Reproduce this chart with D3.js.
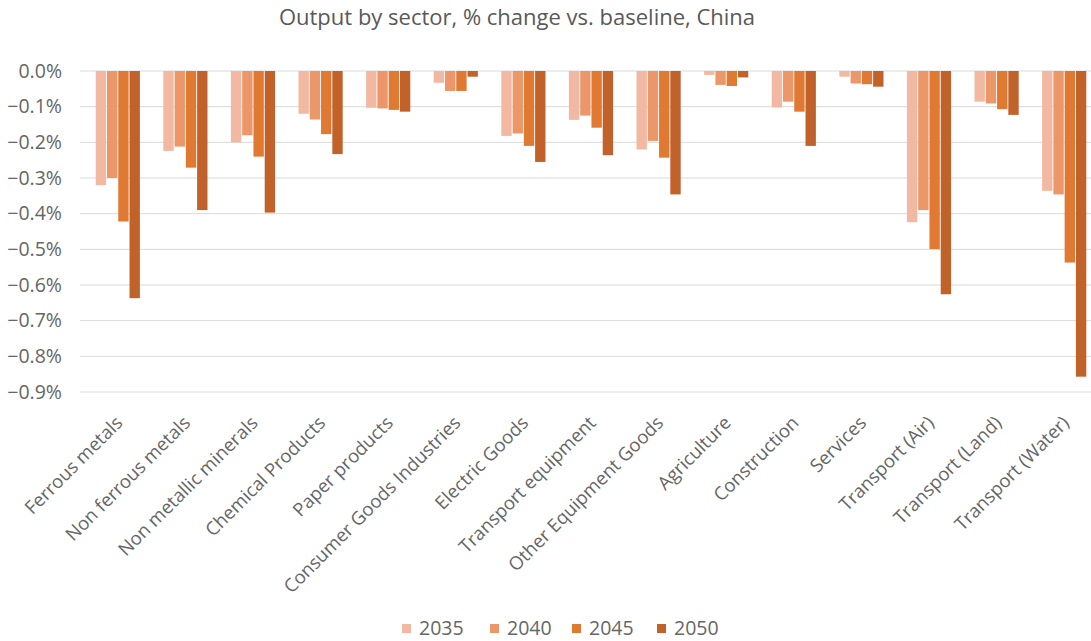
<!DOCTYPE html>
<html>
<head>
<meta charset="utf-8">
<script src="https://cdn.jsdelivr.net/npm/d3@7"></script>
<style>
  html, body { margin: 0; padding: 0; background: #fff; }
  svg { display: block; }
  text { font-family: "Open Sans", "Liberation Sans", sans-serif; }
</style>
</head>
<body>
<svg id="chart" width="1091" height="641"></svg>
<script>
// Sectors along the x axis
const sectors = [
  "Ferrous metals", "Non ferrous metals", "Non metallic minerals", "Chemical Products",
  "Paper products", "Consumer Goods Industries", "Electric Goods", "Transport equipment",
  "Other Equipment Goods", "Agriculture", "Construction", "Services",
  "Transport (Air)", "Transport (Land)", "Transport (Water)"
];

// Years shown as series
const years = ["2035", "2040", "2045", "2050"];

// % change vs. baseline, one array per year (in percent)
const v2035 = [-0.320, -0.224, -0.200, -0.120, -0.103, -0.033, -0.182, -0.137, -0.220, -0.011, -0.102, -0.016, -0.424, -0.086, -0.336];
const v2040 = [-0.300, -0.212, -0.180, -0.136, -0.105, -0.056, -0.175, -0.125, -0.196, -0.039, -0.086, -0.035, -0.390, -0.091, -0.346];
const v2045 = [-0.422, -0.271, -0.240, -0.177, -0.109, -0.056, -0.210, -0.159, -0.243, -0.042, -0.114, -0.037, -0.499, -0.107, -0.537];
const v2050 = [-0.637, -0.390, -0.397, -0.233, -0.114, -0.016, -0.255, -0.236, -0.346, -0.018, -0.210, -0.044, -0.626, -0.123, -0.857];

// Y axis ticks
const yTicks = [0, -0.1, -0.2, -0.3, -0.4, -0.5, -0.6, -0.7, -0.8, -0.9];

const seriesValues = [v2035, v2040, v2045, v2050];
const colors = ["#f2b8a2", "#ec9769", "#e07a33", "#c0622a"];

const svg = d3.select("#chart");

const x0 = d3.scaleBand().domain(sectors).range([84, 1098]).paddingInner(0.32).paddingOuter(0.16);
const x1 = d3.scaleBand().domain(years).range([0, x0.bandwidth()]).padding(0.08);
const y = d3.scaleLinear().domain([0, -0.9]).range([71, 392]);
const color = d3.scaleOrdinal().domain(years).range(colors);

// Title
svg.append("text")
  .attr("x", 517).attr("y", 25)
  .attr("text-anchor", "middle")
  .attr("font-size", 22)
  .attr("fill", "#595959")
  .text("Output by sector, % change vs. baseline, China");

// Gridlines
svg.append("g")
  .selectAll("line")
  .data(yTicks)
  .join("line")
  .attr("x1", 80).attr("x2", 1091)
  .attr("y1", d => y(d)).attr("y2", d => y(d))
  .attr("stroke", "#d9d9d9")
  .attr("stroke-width", 1);

// Y axis labels
const yAxis = d3.axisLeft(y)
  .tickValues(yTicks)
  .tickSize(0)
  .tickPadding(0)
  .tickFormat(d => d3.format(".1f")(d) + "%");
svg.append("g")
  .attr("transform", "translate(62,0)")
  .call(yAxis)
  .call(g => g.select(".domain").remove())
  .call(g => g.selectAll("text")
    .attr("font-size", 19.5)
    .attr("fill", "#666666")
    .attr("font-family", "'Open Sans', sans-serif"));

// Bars
const rows = sectors.map((s, i) => ({ sector: s, vals: years.map((yr, k) => ({ year: yr, value: seriesValues[k][i] })) }));

svg.append("g")
  .selectAll("g")
  .data(rows)
  .join("g")
  .attr("transform", d => `translate(${x0(d.sector)},0)`)
  .selectAll("rect")
  .data(d => d.vals)
  .join("rect")
  .attr("x", d => x1(d.year))
  .attr("width", x1.bandwidth())
  .attr("y", y(0))
  .attr("height", d => y(d.value) - y(0))
  .attr("fill", d => color(d.year));

// X axis category labels, rotated
svg.append("g")
  .selectAll("text")
  .data(sectors)
  .join("text")
  .attr("transform", d => `translate(${x0(d) + x0.bandwidth() / 2 + 6},${424}) rotate(-45)`)
  .attr("text-anchor", "end")
  .attr("font-size", 18.5)
  .attr("fill", "#666666")
  .text(d => d);

// Legend
const legendX = [402, 490, 572, 657];
const legend = svg.append("g");
years.forEach((yr, k) => {
  legend.append("rect")
    .attr("x", legendX[k]).attr("y", 624)
    .attr("width", 9).attr("height", 9)
    .attr("fill", colors[k]);
  legend.append("text")
    .attr("x", legendX[k] + 17).attr("y", 635)
    .attr("font-size", 19.5)
    .attr("fill", "#666666")
    .text(yr);
});
</script>
</body>
</html>
